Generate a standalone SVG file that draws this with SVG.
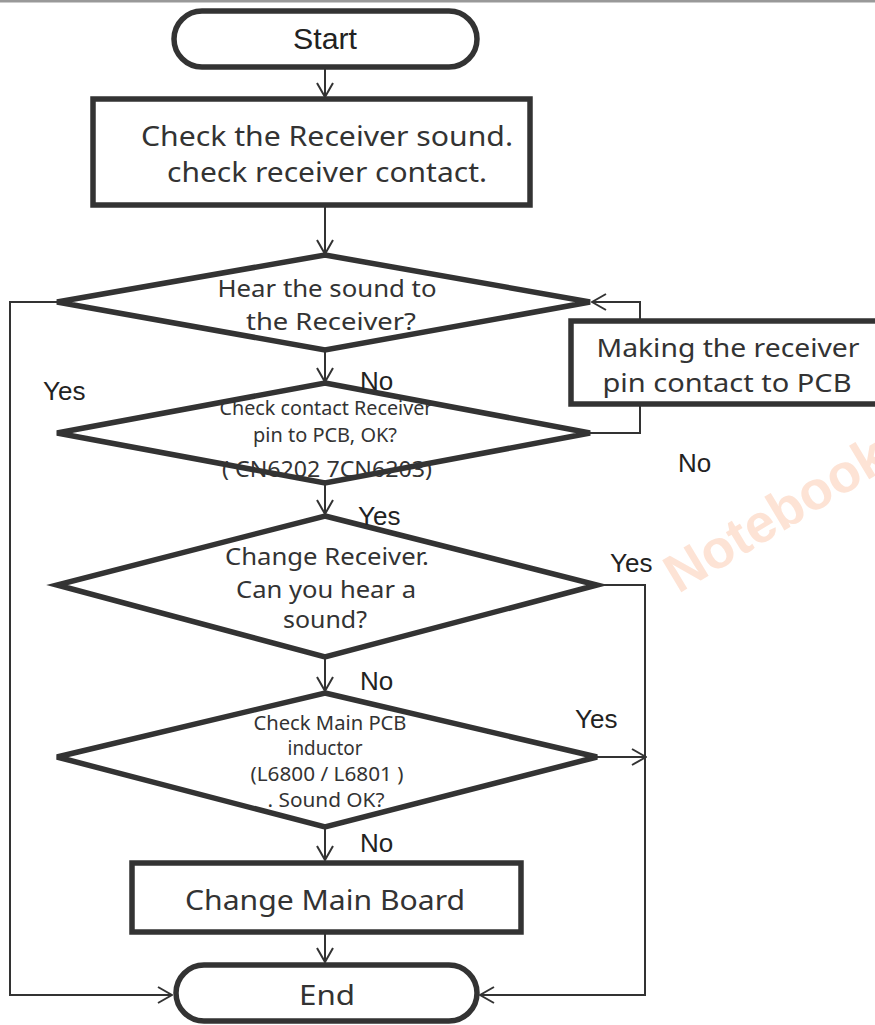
<svg xmlns="http://www.w3.org/2000/svg" width="875" height="1025" viewBox="0 0 875 1025">
<style>
.sh{fill:#fff;stroke:#333;stroke-width:5.5;stroke-linejoin:miter}
.cn{fill:none;stroke:#333;stroke-width:2}
.t{font-family:"Noto Sans","Open Sans",sans-serif;fill:#333;text-anchor:middle}
.a{font-family:"Liberation Sans",Arial,sans-serif;fill:#222}
</style>
<defs>
<marker id="ar" viewBox="0 0 16 18" refX="15" refY="9" markerWidth="16" markerHeight="18" markerUnits="userSpaceOnUse" orient="auto">
<path d="M1,1 L15,9 L1,17" fill="none" stroke="#333" stroke-width="2"/>
</marker>
</defs>
<rect x="0" y="0" width="875" height="2.5" fill="#999"/>
<text x="785" y="530" transform="rotate(-31 785 530)" font-family="Liberation Sans,Arial,sans-serif" font-weight="bold" font-size="54" fill="#fde3d5" text-anchor="middle">Notebook</text>
<g id="connectors">
<line class="cn" x1="325" y1="68" x2="325" y2="97" marker-end="url(#ar)"/>
<line class="cn" x1="325" y1="206" x2="325" y2="254" marker-end="url(#ar)"/>
<line class="cn" x1="325" y1="351" x2="325" y2="382" marker-end="url(#ar)"/>
<line class="cn" x1="325" y1="484" x2="325" y2="514" marker-end="url(#ar)"/>
<line class="cn" x1="325" y1="658" x2="325" y2="691" marker-end="url(#ar)"/>
<line class="cn" x1="325" y1="828" x2="325" y2="860" marker-end="url(#ar)"/>
<line class="cn" x1="325" y1="934" x2="325" y2="962" marker-end="url(#ar)"/>
<polyline class="cn" points="57,302 10,302 10,995 172,995" marker-end="url(#ar)"/>
<polyline class="cn" points="590,433 640,433 640,302 592,302" marker-end="url(#ar)"/>
<polyline class="cn" points="597,585 645,585 645,995 480,995" marker-end="url(#ar)"/>
<line class="cn" x1="597" y1="757" x2="646" y2="757" marker-end="url(#ar)"/>
</g>
<g id="start">
<rect class="sh" x="174" y="11" width="303" height="56" rx="28"/>
<text class="a" x="325" y="49" font-size="29" text-anchor="middle" textLength="64" lengthAdjust="spacingAndGlyphs">Start</text>
</g>
<g id="check-receiver">
<rect class="sh" x="93" y="99" width="437" height="106"/>
<text class="t" x="327" y="146" font-size="28" textLength="372" lengthAdjust="spacingAndGlyphs">Check the Receiver sound.</text>
<text class="t" x="327" y="182" font-size="28" textLength="320" lengthAdjust="spacingAndGlyphs">check receiver contact.</text>
</g>
<g id="hear-sound">
<polygon class="sh" points="325,255 590,302 325,350 57,302"/>
<text class="t" x="327" y="297" font-size="24" textLength="219" lengthAdjust="spacingAndGlyphs">Hear the sound to</text>
<text class="t" x="331" y="330" font-size="24" textLength="170" lengthAdjust="spacingAndGlyphs">the Receiver?</text>
</g>
<g id="check-contact">
<polygon class="sh" points="325,383 590,433 325,483 57,433"/>
<text class="t" x="326" y="415" font-size="19" textLength="213" lengthAdjust="spacingAndGlyphs">Check contact Receiver</text>
<text class="t" x="325" y="442" font-size="19" textLength="144" lengthAdjust="spacingAndGlyphs">pin to PCB, OK?</text>
<text class="t" x="327" y="477" font-size="22" textLength="210" lengthAdjust="spacingAndGlyphs">( CN6202 7CN6203)</text>
</g>
<g id="making-contact">
<rect class="sh" x="571" y="321" width="310" height="83"/>
<text class="t" x="728" y="357" font-size="26" textLength="263" lengthAdjust="spacingAndGlyphs">Making the receiver</text>
<text class="t" x="727" y="392" font-size="26" textLength="249" lengthAdjust="spacingAndGlyphs">pin contact to PCB</text>
</g>
<g id="change-receiver">
<polygon class="sh" points="325,516 597,585 325,657 57,585"/>
<text class="t" x="327" y="565" font-size="24" textLength="204" lengthAdjust="spacingAndGlyphs">Change Receiver.</text>
<text class="t" x="326" y="598" font-size="24" textLength="180" lengthAdjust="spacingAndGlyphs">Can you hear a</text>
<text class="t" x="325" y="628" font-size="24" textLength="84" lengthAdjust="spacingAndGlyphs">sound?</text>
</g>
<g id="check-inductor">
<polygon class="sh" points="325,693 597,757 325,827 57,757"/>
<text class="t" x="330" y="730" font-size="19" textLength="153" lengthAdjust="spacingAndGlyphs">Check Main PCB</text>
<text class="t" x="325" y="755" font-size="19" textLength="75" lengthAdjust="spacingAndGlyphs">inductor</text>
<text class="t" x="327" y="781" font-size="19" textLength="153" lengthAdjust="spacingAndGlyphs">(L6800 / L6801 )</text>
<text class="t" x="326" y="807" font-size="19" textLength="117" lengthAdjust="spacingAndGlyphs">. Sound OK?</text>
</g>
<g id="change-main">
<rect class="sh" x="132" y="863" width="389" height="69"/>
<text class="t" x="325" y="910" font-size="28" textLength="280" lengthAdjust="spacingAndGlyphs">Change Main Board</text>
</g>
<g id="end">
<rect class="sh" x="176" y="965" width="301" height="56" rx="28"/>
<text class="t" x="327" y="1005" font-size="28" textLength="56" lengthAdjust="spacingAndGlyphs">End</text>
</g>
<g id="labels">
<text class="a" x="43" y="400" font-size="26">Yes</text>
<text class="a" x="360" y="390" font-size="26">No</text>
<text class="a" x="678" y="472" font-size="26">No</text>
<text class="a" x="358" y="525" font-size="26">Yes</text>
<text class="a" x="610" y="572" font-size="26">Yes</text>
<text class="a" x="360" y="690" font-size="26">No</text>
<text class="a" x="575" y="728" font-size="26">Yes</text>
<text class="a" x="360" y="852" font-size="26">No</text>
</g>
</svg>
